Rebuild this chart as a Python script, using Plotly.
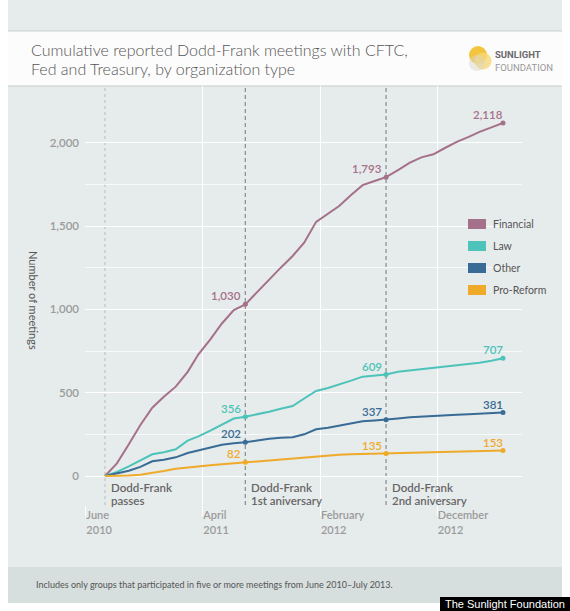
import plotly.graph_objects as go
import pandas as pd

# ---------------- data ----------------
dates = pd.date_range("2010-07-21", periods=35, freq=pd.DateOffset(months=1)).strftime("%Y-%m-%d").tolist()

series_names = ["Financial", "Law", "Other", "Pro-Reform"]
financial = [0, 76, 191, 306, 410, 476, 536, 625, 730, 820, 915, 995, 1030, 1105, 1180, 1250, 1320, 1400,
             1525, 1575, 1620, 1686, 1745, 1770, 1793, 1835, 1880, 1912, 1930, 1968, 2005, 2035, 2065, 2092, 2118]
law = [0, 25, 58, 95, 130, 142, 160, 212, 238, 272, 310, 345, 356, 369, 386, 403, 420, 465,
       510, 528, 548, 572, 596, 603, 609, 625, 633, 640, 645, 655, 665, 672, 680, 692, 707]
other = [0, 14, 32, 55, 88, 97, 112, 138, 152, 170, 187, 197, 202, 213, 224, 229, 232, 250,
         280, 290, 302, 316, 328, 333, 337, 345, 352, 357, 362, 365, 368, 371, 374, 378, 381]
pro_reform = [0, 1, 3, 8, 18, 30, 43, 52, 59, 65, 70, 76, 82, 88, 94, 99, 105, 110,
              116, 122, 127, 130, 132, 134, 135, 137, 139, 140, 142, 144, 146, 148, 150, 152, 153]
series_values = [financial, law, other, pro_reform]
series_colors = ["#A5708A", "#4DC3BA", "#386B95", "#F0AA2A"]

tick_dates = ["2010-06-01", "2011-04-01", "2012-02-01", "2012-12-01"]
tick_labels = ["June<br>2010", "April<br>2011", "February<br>2012", "December<br>2012"]
y_ticks = [0, 500, 1000, 1500, 2000]
y_minor = [250, 750, 1250, 1750]

event_idx = [0, 12, 24]
event_labels = [("Dodd-Frank", "passes"), ("Dodd-Frank", "1st aniversary"), ("Dodd-Frank", "2nd aniversary")]
label_idx = [12, 24, 34]

title_lines = ["Cumulative reported Dodd-Frank meetings with CFTC,", "Fed and Treasury, by organization type"]
y_title = "Number of meetings"
note = "Includes only groups that participated in five or more meetings from June 2010\u2013July 2013."
credit = "The Sunlight Foundation"

# ---------------- layout geometry ----------------
W, H = 570, 611
PL, PR, PT, PB = 85, 522, 86, 505
FONT = "Lato"
BG = "#E6EBEB"


def px(x):
    return (x - PL) / (PR - PL)


def py(y):
    return (PB - y) / (PB - PT)


fig = go.Figure()

for name, vals, col in zip(series_names, series_values, series_colors):
    fig.add_trace(go.Scatter(x=dates, y=vals, mode="lines", name=name,
                             line=dict(color=col, width=2), showlegend=False, hoverinfo="skip"))
    fig.add_trace(go.Scatter(x=[dates[i] for i in label_idx], y=[vals[i] for i in label_idx],
                             mode="markers", marker=dict(color=col, size=5), showlegend=False,
                             hoverinfo="skip"))

shapes = []
annotations = []

# panel backgrounds
shapes.append(dict(type="rect", xref="paper", yref="paper", x0=px(8), x1=px(562), y0=py(603), y1=py(0),
                   fillcolor=BG, line=dict(width=0), layer="below"))
shapes.append(dict(type="rect", xref="paper", yref="paper", x0=px(8), x1=px(562), y0=py(86), y1=py(31),
                   fillcolor="#FCFCFC", line=dict(width=0), layer="below"))
for yy in (31, 86):
    shapes.append(dict(type="line", xref="paper", yref="paper", x0=px(8), x1=px(562), y0=py(yy), y1=py(yy),
                       line=dict(color="#C8CFCF", width=1), layer="below"))
shapes.append(dict(type="rect", xref="paper", yref="paper", x0=px(8), x1=px(562), y0=py(603), y1=py(567),
                   fillcolor="#D7DEDE", line=dict(width=0), layer="below"))
shapes.append(dict(type="rect", xref="paper", yref="paper", x0=px(440), x1=px(571), y0=py(612), y1=py(597),
                   fillcolor="#000000", line=dict(width=0), layer="above"))

# event dashed lines
for j, i in enumerate(event_idx):
    if j == 0:
        ln = dict(color="#B8BCBC", width=1, dash="3px,3px")
    else:
        ln = dict(color="#8E9292", width=1.3, dash="4px,3px")
    shapes.append(dict(type="line", xref="x", yref="paper", x0=dates[i], x1=dates[i], y0=0, y1=1,
                       line=ln, layer="between"))
    l1, l2 = event_labels[j]
    for k, (txt, yy) in enumerate(((l1, 487), (l2, 500))):
        annotations.append(dict(x=dates[i], y=py(yy), xref="x", yref="paper", text=txt, showarrow=False,
                                xanchor="left", yanchor="middle", xshift=4,
                                font=dict(family=FONT, size=11.5, color="#666666", weight=600)))

# value labels
for vals, col in zip(series_values, series_colors):
    for i in label_idx:
        annotations.append(dict(x=dates[i], y=vals[i], xref="x", yref="y", text=f"{vals[i]:,}",
                                showarrow=False, xanchor="right", yanchor="bottom",
                                xshift=-2 if i != label_idx[-1] else 2, yshift=0,
                                font=dict(family=FONT, size=11.5, color=col, weight=600)))

# legend (swatches + labels)
for k, (name, col) in enumerate(zip(series_names, series_colors)):
    cy = 224 + 22 * k
    shapes.append(dict(type="rect", xref="paper", yref="paper", x0=px(468), x1=px(486),
                       y0=py(cy + 5), y1=py(cy - 5), fillcolor=col, line=dict(width=0), layer="above"))
    annotations.append(dict(x=px(491), y=py(cy), xref="paper", yref="paper", text=name, showarrow=False,
                            xanchor="left", yanchor="middle",
                            font=dict(family=FONT, size=10.5, color="#555555")))

# title
for k, (txt, yy) in enumerate(zip(title_lines, (49, 69))):
    annotations.append(dict(x=px(29), y=py(yy), xref="paper", yref="paper", text=txt, showarrow=False,
                            xanchor="left", yanchor="middle",
                            font=dict(family=FONT, size=16, color="#555555", weight=300)))

# logo
for cx, cy, r, c, op in ((478, 55, 9, "#F2C234", 0.95), (483, 61, 8.5, "#F6D774", 0.8),
                         (477, 63, 8, "#D9D6C8", 0.5)):
    shapes.append(dict(type="circle", xref="paper", yref="paper", x0=px(cx - r), x1=px(cx + r),
                       y0=py(cy + r), y1=py(cy - r), fillcolor=c, opacity=op, line=dict(width=0),
                       layer="above"))
annotations.append(dict(x=px(493), y=py(55), xref="paper", yref="paper", text="<b>SUNLIGHT</b>",
                        showarrow=False, xanchor="left", yanchor="middle",
                        font=dict(family="Roboto", size=9.5, color="#6A6A6A")))
annotations.append(dict(x=px(493), y=py(67), xref="paper", yref="paper", text="FOUNDATION",
                        showarrow=False, xanchor="left", yanchor="middle",
                        font=dict(family="Roboto", size=9.5, color="#9A9A9A")))

# y axis title (reads top to bottom)
annotations.append(dict(x=px(34), y=py(300), xref="paper", yref="paper", text=y_title, showarrow=False,
                        textangle=90, xanchor="center", yanchor="middle",
                        font=dict(family=FONT, size=11, color="#555555")))

# footnote and credit
annotations.append(dict(x=px(34), y=py(584), xref="paper", yref="paper", text=note, showarrow=False,
                        xanchor="left", yanchor="middle",
                        font=dict(family=FONT, size=9, color="#555555")))
annotations.append(dict(x=px(505), y=py(604), xref="paper", yref="paper", text=credit, showarrow=False,
                        xanchor="center", yanchor="middle",
                        font=dict(family="Liberation Sans", size=11, color="#FFFFFF")))

fig.update_layout(
    width=W, height=H, autosize=False,
    margin=dict(l=PL, r=W - PR, t=PT, b=H - PB, pad=0),
    paper_bgcolor="#FFFFFF", plot_bgcolor="rgba(0,0,0,0)",
    showlegend=False,
    shapes=shapes, annotations=annotations,
    xaxis=dict(type="date", range=["2010-05-30", "2013-07-09 12:00"], tickvals=tick_dates,
               ticktext=tick_labels, showgrid=True, gridcolor="#FFFFFF", gridwidth=1.2,
               ticks="outside", ticklen=10, tickcolor="#FFFFFF", tickwidth=1.2,
               ticklabelposition="outside right", zeroline=False, showline=False,
               tickfont=dict(family=FONT, size=11, color="#9B9B9B", weight=600)),
    yaxis=dict(range=[-174, 2340], tickvals=y_ticks, tickformat=",", showgrid=True,
               gridcolor="#FFFFFF", gridwidth=1.2, zeroline=False, showline=False, ticks="",
               ticklabelstandoff=5,
               minor=dict(tickvals=y_minor, showgrid=True, gridcolor="rgba(255,255,255,0.7)", gridwidth=1),
               tickfont=dict(family=FONT, size=11.5, color="#9B9B9B", weight=600)),
)

fig.write_html("out.html", config={"displayModeBar": False},
               post_script="document.body.style.margin='0';")
